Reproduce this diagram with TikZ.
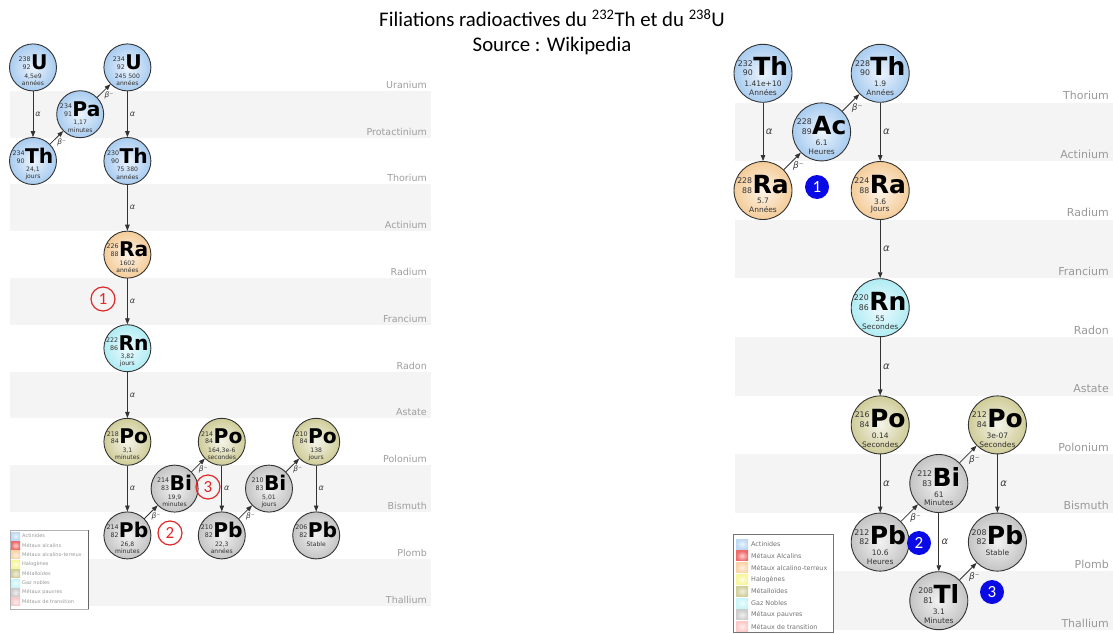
\documentclass[tikz,border=0pt]{standalone}
\usepackage{fontspec}
\setmainfont{Carlito}
\newfontfamily\dv{DejaVu Sans}
\usetikzlibrary{arrows.meta,calc}
\definecolor{cact}{HTML}{A8CCF0}
\definecolor{calk}{HTML}{F4CC98}
\definecolor{cnob}{HTML}{B0ECF4}
\definecolor{cmet}{HTML}{CFCC98}
\definecolor{cpoor}{HTML}{C4C4C4}
\definecolor{lgact}{HTML}{BCD8F5}
\definecolor{lgalc}{HTML}{F06A6A}
\definecolor{lgear}{HTML}{FBD3A6}
\definecolor{lghal}{HTML}{F8F59A}
\definecolor{lgmet}{HTML}{CFCF9A}
\definecolor{lgnob}{HTML}{C8F5F8}
\definecolor{lgpoor}{HTML}{CCCCCC}
\definecolor{lgtra}{HTML}{FBC8C8}
\definecolor{circred}{HTML}{E02828}
\definecolor{circblue}{HTML}{0A0AE6}
\definecolor{bandgrey}{HTML}{F4F4F4}
\newcommand\symtext[3]{{\dv\fontsize{7.8}{9}\selectfont\color{black!80}\vbox{\baselineskip=9.5pt\halign{\hfil##\cr#1\cr#2\cr}}}\kern0.5pt{\dv\bfseries\fontsize{25}{25}\selectfont#3}}
\newcommand\isotope[9]{%
  \begin{scope}[shift={(#2)}, scale=#9, transform shape]
    \node[iso=#3] (#1) at (0,0) {};
    \node[anchor=base, inner sep=0pt] (#1s) at (0,2.5) {\symtext{#4}{#5}{#6}};
    \node[halftext] (#1a) at (0,10.8) {#7};
    \node[halftext] (#1b) at (0,19.5) {#8};
  \end{scope}}
\tikzset{
  iso/.style={circle, draw=black!80, line width=0.9pt, minimum size=58pt, inner sep=0pt,
    shading=radial, inner color=#1!22!white, outer color=#1},
  halftext/.style={inner sep=0pt, font=\dv\fontsize{7.5}{7.5}\selectfont, text=black!80},
  decay/.style={draw=black!80, line width=0.8pt, -{Triangle[length=6pt,width=4.5pt]}},
  alabR/.style={right, inner sep=2.5pt, font=\dv\itshape\fontsize{10}{10}\selectfont, text=black!75},
  blabR/.style={below right, inner sep=0.5pt, font=\dv\itshape\fontsize{9}{9}\selectfont, text=black!75},
  alabL/.style={right, inner sep=2pt, font=\dv\itshape\fontsize{8}{8}\selectfont, text=black!75},
  blabL/.style={below right, inner sep=0.3pt, font=\dv\itshape\fontsize{7.5}{7.5}\selectfont, text=black!75},
  rowlabR/.style={anchor=east, inner sep=0pt, text=black!40, font=\dv\fontsize{11}{11}\selectfont},
  rowlabL/.style={anchor=east, inner sep=0pt, text=black!38, font=\dv\fontsize{9.5}{9.5}\selectfont},
  legtxtR/.style={anchor=west, inner sep=0pt, text=black!55, font=\dv\fontsize{6.4}{6.4}\selectfont},
  legtxtL/.style={anchor=west, inner sep=0pt, text=black!40, font=\dv\fontsize{5}{5}\selectfont},
  redmark/.style={circle, draw=circred, line width=1.2pt, minimum size=24pt, inner sep=0pt,
    text=circred, font=\fontsize{17}{17}\selectfont},
  bluemark/.style={circle, fill=circblue, minimum size=24pt, inner sep=0pt,
    text=white, font=\fontsize{17}{17}\selectfont},
}
\begin{document}
\begin{tikzpicture}[x=1pt, y=-1pt]
\useasboundingbox (0,0) rectangle (1113,634);
\fill[white] (0,0) rectangle (1113,634);
% title
\node[font=\fontsize{20.8}{20.8}\selectfont, inner sep=0pt] (title1) at (552,18) {Filiations radioactives du \textsuperscript{232}Th et du \textsuperscript{238}U};
\node[font=\fontsize{20.8}{20.8}\selectfont, inner sep=0pt] (title2) at (552,46) {Source : Wikipedia};
% ---------------- left bands
\foreach \k in {1,3,5,7,9,11}
  \fill[bandgrey] (10,{44+46.8*\k}) rectangle (431,{44+46.8*(\k+1)});
\foreach \k/\t in {0/Uranium,1/Protactinium,2/Thorium,3/Actinium,4/Radium,5/Francium,6/Radon,7/Astate,8/Polonium,9/Bismuth,10/Plomb,11/Thallium}
  \node[rowlabL] (labL\k) at (427,{44+46.8*(\k+1)-6}) {\t};
% ---------------- right bands
\foreach \k in {1,3,5,7,9}
  \fill[bandgrey] (735,{44+58.6*\k}) rectangle (1113,{44+58.6*(\k+1)});
\foreach \k/\t in {0/Thorium,1/Actinium,2/Radium,3/Francium,4/Radon,5/Astate,6/Polonium,7/Bismuth,8/Plomb,9/Thallium}
  \node[rowlabR] (labR\k) at (1109,{44+58.6*(\k+1)-7}) {\t};
% ---------------- left chain (238U)
\def\sL{0.81}
\isotope{Ua}{33,67.4}{cact}{238}{92}{U}{4,5e9}{années}{\sL}
\isotope{Pa}{80.2,114.2}{cact}{234}{91}{Pa}{1,17}{minutes}{\sL}
\isotope{Ub}{127.4,67.4}{cact}{234}{92}{U}{245 500}{années}{\sL}
\isotope{Tha}{33,161}{cact}{234}{90}{Th}{24,1}{jours}{\sL}
\isotope{Thb}{127.4,161}{cact}{230}{90}{Th}{75 380}{années}{\sL}
\isotope{RaL}{127.4,254.6}{calk}{226}{88}{Ra}{1602}{années}{\sL}
\isotope{RnL}{127.4,348.2}{cnob}{222}{86}{Rn}{3,82}{jours}{\sL}
\isotope{PoLa}{127.4,441.8}{cmet}{218}{84}{Po}{3,1}{minutes}{\sL}
\isotope{PoLb}{221.8,441.8}{cmet}{214}{84}{Po}{164,3e-6}{secondes}{\sL}
\isotope{PoLc}{316.2,441.8}{cmet}{210}{84}{Po}{138}{jours}{\sL}
\isotope{BiLa}{174.6,488.6}{cpoor}{214}{83}{Bi}{19,9}{minutes}{\sL}
\isotope{BiLb}{269,488.6}{cpoor}{210}{83}{Bi}{5,01}{jours}{\sL}
\isotope{PbLa}{127.4,535.4}{cpoor}{214}{82}{Pb}{26,8}{minutes}{\sL}
\isotope{PbLb}{221.8,535.4}{cpoor}{210}{82}{Pb}{22,3}{années}{\sL}
\isotope{PbLc}{316.2,535.4}{cpoor}{206}{82}{Pb}{Stable}{}{\sL}
% left decays
\draw[decay] (Ua) -- node[alabL]{α} (Tha);
\draw[decay] (Tha) -- node[blabL]{β⁻} (Pa);
\draw[decay] (Pa) -- node[blabL]{β⁻} (Ub);
\draw[decay] (Ub) -- node[alabL]{α} (Thb);
\draw[decay] (Thb) -- node[alabL]{α} (RaL);
\draw[decay] (RaL) -- node[alabL]{α} (RnL);
\draw[decay] (RnL) -- node[alabL]{α} (PoLa);
\draw[decay] (PoLa) -- node[alabL]{α} (PbLa);
\draw[decay] (PbLa) -- node[blabL]{β⁻} (BiLa);
\draw[decay] (BiLa) -- node[blabL]{β⁻} (PoLb);
\draw[decay] (PoLb) -- node[alabL]{α} (PbLb);
\draw[decay] (PbLb) -- node[blabL]{β⁻} (BiLb);
\draw[decay] (BiLb) -- node[blabL]{β⁻} (PoLc);
\draw[decay] (PoLc) -- node[alabL]{α} (PbLc);
% red marks
\node[redmark] (r1) at (103,299) {1};
\node[redmark] (r2) at (170,533) {2};
\node[redmark] (r3) at (208,487) {3};
% ---------------- right chain (232Th)
\isotope{ThR}{763,73.3}{cact}{232}{90}{Th}{1.41e+10}{Années}{1}
\isotope{AcR}{821.6,131.9}{cact}{228}{89}{Ac}{6.1}{Heures}{1}
\isotope{ThRb}{880.2,73.3}{cact}{228}{90}{Th}{1.9}{Années}{1}
\isotope{RaRa}{763,190.5}{calk}{228}{88}{Ra}{5.7}{Années}{1}
\isotope{RaRb}{880.2,190.5}{calk}{224}{88}{Ra}{3.6}{Jours}{1}
\isotope{RnR}{880.2,307.7}{cnob}{220}{86}{Rn}{55}{Secondes}{1}
\isotope{PoRa}{880.2,424.9}{cmet}{216}{84}{Po}{0.14}{Secondes}{1}
\isotope{PoRb}{997.4,424.9}{cmet}{212}{84}{Po}{3e-07}{Secondes}{1}
\isotope{BiR}{938.8,483.5}{cpoor}{212}{83}{Bi}{61}{Minutes}{1}
\isotope{PbRa}{880.2,542.1}{cpoor}{212}{82}{Pb}{10.6}{Heures}{1}
\isotope{PbRb}{997.4,542.1}{cpoor}{208}{82}{Pb}{Stable}{}{1}
\isotope{TlR}{938.8,600.7}{cpoor}{208}{81}{Tl}{3.1}{Minutes}{1}
% right decays
\draw[decay] (ThR) -- node[alabR]{α} (RaRa);
\draw[decay] (RaRa) -- node[blabR]{β⁻} (AcR);
\draw[decay] (AcR) -- node[blabR]{β⁻} (ThRb);
\draw[decay] (ThRb) -- node[alabR]{α} (RaRb);
\draw[decay] (RaRb) -- node[alabR]{α} (RnR);
\draw[decay] (RnR) -- node[alabR]{α} (PoRa);
\draw[decay] (PoRa) -- node[alabR]{α} (PbRa);
\draw[decay] (PbRa) -- node[blabR]{β⁻} (BiR);
\draw[decay] (BiR) -- node[blabR]{β⁻} (PoRb);
\draw[decay] (BiR) -- node[alabR]{α} (TlR);
\draw[decay] (PoRb) -- node[alabR]{α} (PbRb);
\draw[decay] (TlR) -- node[blabR]{β⁻} (PbRb);
% blue marks
\node[bluemark] (b1) at (817,187) {1};
\node[bluemark] (b2) at (919,543) {2};
\node[bluemark] (b3) at (992,592) {3};
% ---------------- legends
\draw[black!55, fill=white, line width=0.6pt] (733,534) rectangle (833,632);
\foreach \i/\c/\t in {0/lgact/Actinides,1/lgalc/Métaux Alcalins,2/lgear/Métaux alcalino-terreux,3/lghal/Halogènes,4/lgmet/Métalloïdes,5/lgnob/Gaz Nobles,6/lgpoor/Métaux pauvres,7/lgtra/Métaux de transition}{
  \shade[inner color=\c!30!white, outer color=\c] (736,{539+11.8*\i}) rectangle (748,{549+11.8*\i});
  \node[legtxtR] (legR\i) at (751,{544+11.8*\i}) {\t};
}
\draw[black!30, fill=white, line width=0.5pt] (10,530) rectangle (88,609);
\draw[black!60, line width=0.6pt] (88,530) -- (88,609);
\foreach \i/\c/\t in {0/lgact/Actinides,1/lgalc/Métaux alcalins,2/lgear/Métaux alcalino-terreux,3/lghal/Halogènes,4/lgmet/Métalloïdes,5/lgnob/Gaz nobles,6/lgpoor/Métaux pauvres,7/lgtra/Métaux de transition}{
  \shade[inner color=\c!30!white, outer color=\c] (11,{532+9.4*\i}) rectangle (20,{540+9.4*\i});
  \node[legtxtL] (legL\i) at (22,{536+9.4*\i}) {\t};
}
\end{tikzpicture}
\end{document}
